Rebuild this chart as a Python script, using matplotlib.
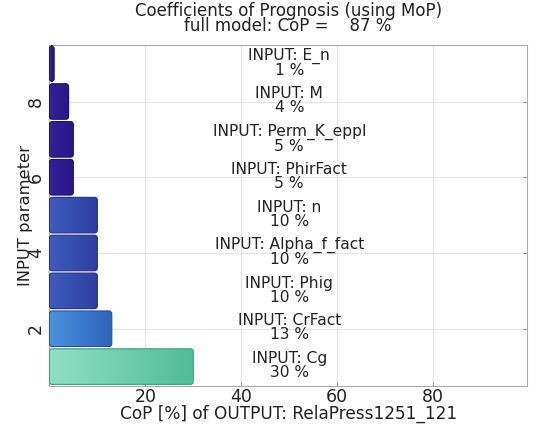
import numpy as np
import matplotlib.pyplot as plt
from matplotlib.patches import FancyBboxPatch
from matplotlib.colors import LinearSegmentedColormap

# Data (bottom to top)
positions = [1, 2, 3, 4, 5, 6, 7, 8, 9]
params = ['Cg', 'CrFact', 'Phig', 'Alpha_f_fact', 'n', 'PhirFact', 'Perm_K_eppl', 'M', 'E_n']
cop = [30, 13, 10, 10, 10, 5, 5, 4, 1]
colors_left = ['#8fe0c4', '#4a93dc', '#3d5cbf', '#3d5cbf', '#3d5cbf', '#34209a', '#34209a', '#34209a', '#34209a']
colors_right = ['#52bc98', '#2f62bd', '#2f3fa0', '#2f3fa0', '#2f3fa0', '#2a1888', '#2a1888', '#2a1888', '#2a1888']
edge_colors = ['#3f9f7f', '#244f9f', '#232f80', '#232f80', '#232f80', '#1e1070', '#1e1070', '#1e1070', '#1e1070']

full_cop = 87
output_name = 'RelaPress1251_121'

fig = plt.figure(figsize=(5.37, 4.26), dpi=100)
ax = fig.add_axes([0.092, 0.095, 0.889, 0.80])

bar_h = 0.94
for pos, name, val, cl, cr, ec in zip(positions, params, cop, colors_left, colors_right, edge_colors):
    y0 = pos - bar_h / 2
    patch = FancyBboxPatch((0, y0), val, bar_h,
                           boxstyle='round,pad=0,rounding_size=0.6',
                           mutation_aspect=1 / 8,
                           facecolor='none', edgecolor=ec, linewidth=0.8, zorder=3)
    ax.add_patch(patch)
    # horizontal gradient fill clipped to the rounded bar
    cmap = LinearSegmentedColormap.from_list('g', [cl, cr])
    grad = np.linspace(0, 1, 64).reshape(1, -1)
    im = ax.imshow(grad, cmap=cmap, extent=(0, val, y0, y0 + bar_h),
                   aspect='auto', origin='lower', zorder=2, interpolation='bilinear')
    im.set_clip_path(patch)
    ax.text(50, pos + 0.02, f'INPUT: {name}\n{val} %', ha='center', va='center',
            fontsize=11.2, color='#222222', linespacing=0.92, zorder=4)

ax.set_xlim(0, 99.5)
ax.set_ylim(0.5, 9.5)
ax.set_xticks([20, 40, 60, 80])
ax.set_yticks([2, 4, 6, 8])
ax.set_yticklabels(['2', '4', '6', '8'], rotation=90, va='center')
ax.tick_params(axis='both', labelsize=12.5, colors='#222222')
ax.tick_params(axis='y', left=False, right=True, direction='in', length=3, color='#999999', pad=3)
ax.tick_params(axis='x', bottom=True, direction='in', length=3, color='#999999', pad=2)
ax.grid(True, color='#e4e4e4', linewidth=0.8, zorder=0)
ax.set_axisbelow(True)
for s in ax.spines.values():
    s.set_color('#aaaaaa')
    s.set_linewidth(0.8)

ax.set_xlabel(f'CoP [%] of OUTPUT: {output_name}', fontsize=12.2, color='#222222', labelpad=-1)
ax.set_ylabel('INPUT parameter', fontsize=11.8, color='#222222', labelpad=-4)
ax.set_title(f'Coefficients of Prognosis (using MoP)\nfull model: CoP =    {full_cop} %',
             fontsize=12, color='#222222', linespacing=0.8, pad=10)

fig.savefig('out.png', dpi=100)
